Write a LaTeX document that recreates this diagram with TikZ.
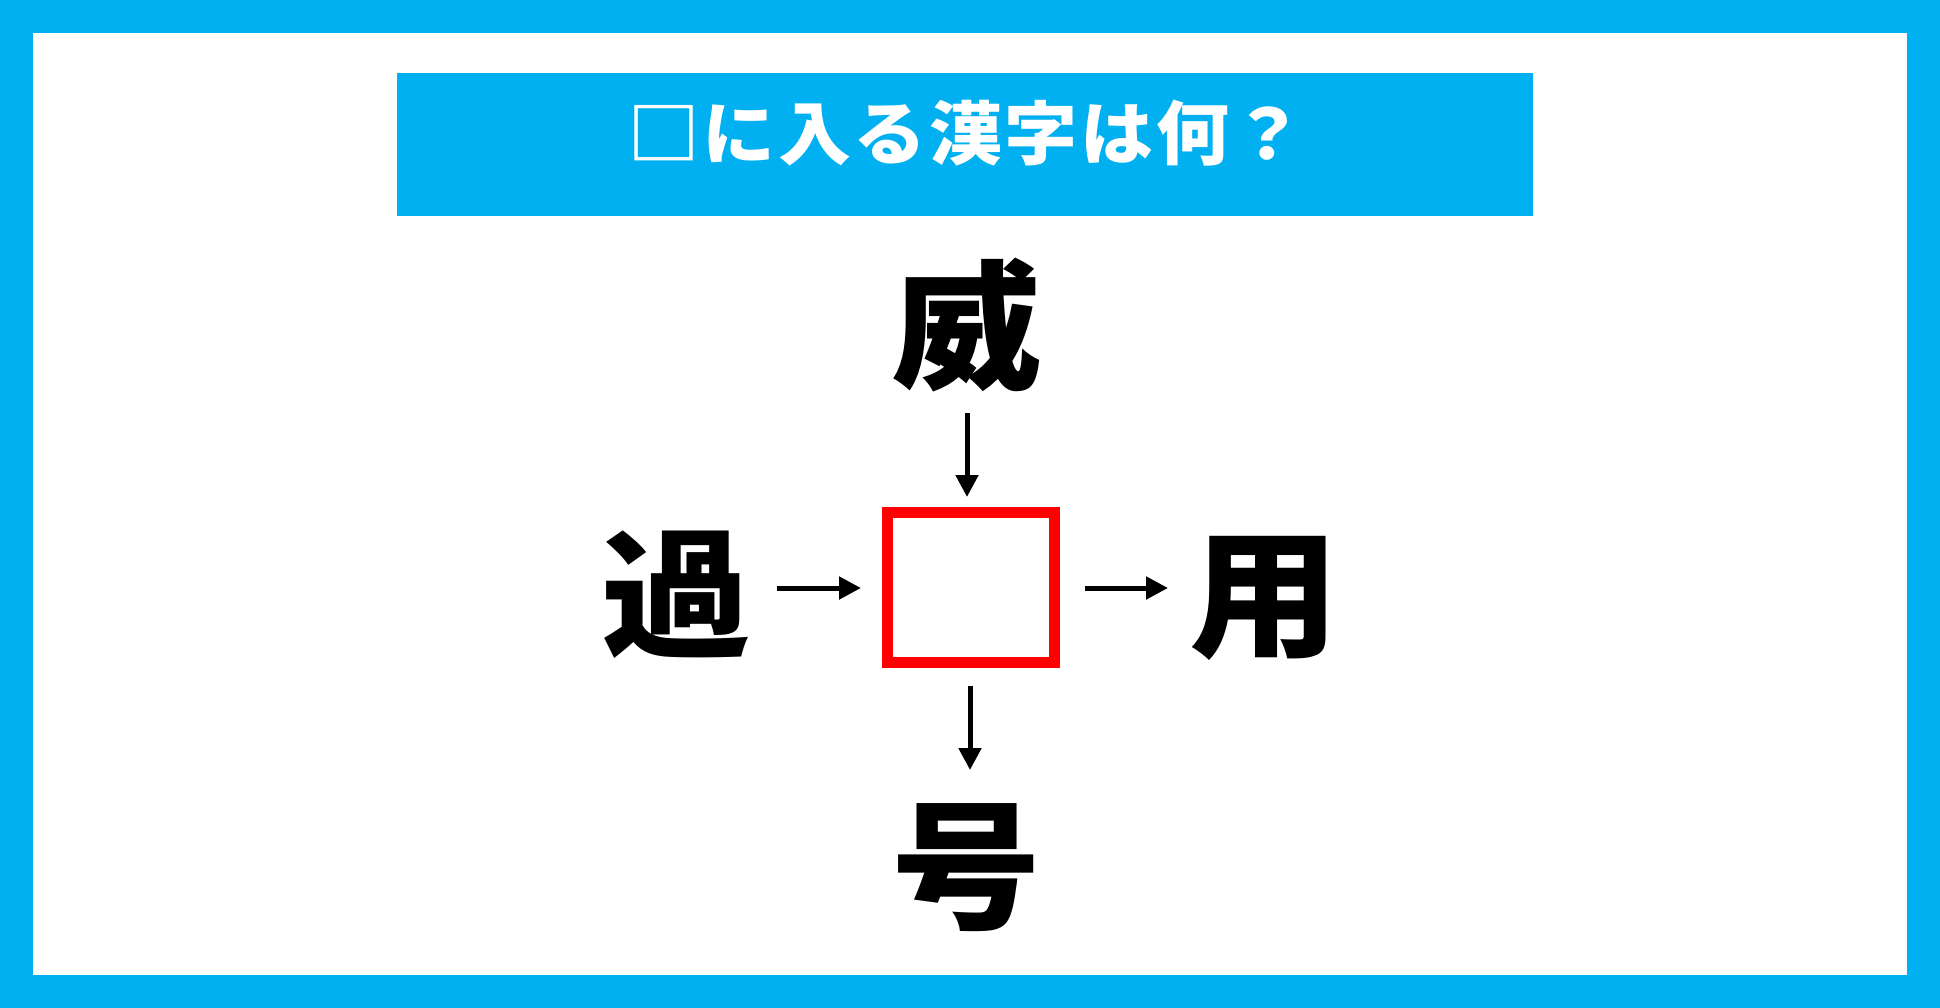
\documentclass[tikz,border=0pt]{standalone}
\usepackage{fontspec}
\newfontfamily\jp{Noto Sans CJK JP}
\newfontfamily\jptitle{Noto Sans CJK JP}[LetterSpace=3.5]
\usetikzlibrary{arrows.meta}
\definecolor{frameblue}{RGB}{0,176,240}
\definecolor{boxred}{RGB}{255,0,0}
\tikzset{
  kanji/.style={anchor=base, inner sep=0pt, yscale=0.93, transform shape, font=\jp\bfseries\fontsize{150}{150}\selectfont},
  conn/.style={line width=5pt, -{Triangle[length=22pt,width=22pt]}},
}
\begin{document}
\begin{tikzpicture}[x=1pt,y=-1pt]
\useasboundingbox (0,0) rectangle (1940,1008);
\fill[frameblue] (0,0) rectangle (1940,1008);
\fill[white] (33,33) rectangle (1907,975);
\node[fill=frameblue, minimum width=1136pt, minimum height=143pt, inner sep=0pt, anchor=north west] (banner) at (397,73) {};
\node[anchor=base, inner sep=0pt, yscale=0.95, transform shape, text=white, font=\jptitle\bfseries\fontsize{73}{73}\selectfont] (title) at (966,160) {□に入る漢字は何？};
\node[draw=boxred, line width=10.7pt, minimum width=167pt, minimum height=150pt, inner sep=0pt] (box) at (971,587.5) {};
\node[kanji] (wei) at (966,378) {威};
\node[kanji] (ka) at (676,646) {過};
\node[kanji] (you) at (1264,646) {用};
\node[kanji] (gou) at (966,918) {号};
\coordinate (t0) at (967,413);
\coordinate (t1) at (967,497);
\coordinate (l0) at (777,588);
\coordinate (l1) at (861,588);
\coordinate (r0) at (1085,588);
\coordinate (r1) at (1168,588);
\coordinate (b0) at (970,686);
\coordinate (b1) at (970,770);
\draw[conn] (t0) -- (t1);
\draw[conn] (l0) -- (l1);
\draw[conn] (r0) -- (r1);
\draw[conn] (b0) -- (b1);
\end{tikzpicture}
\end{document}
